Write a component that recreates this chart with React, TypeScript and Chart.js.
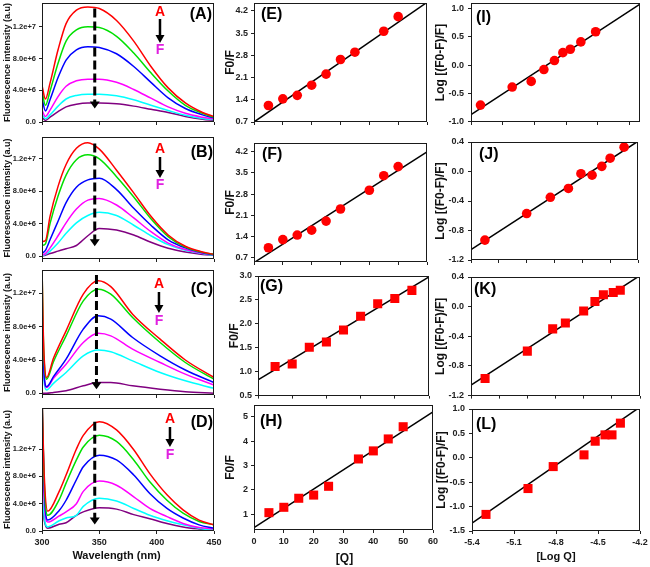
import React, { useEffect, useRef } from 'react';
import { Chart, registerables } from 'chart.js';

Chart.register(...registerables);

const FONT = "'Liberation Sans', Arial, Helvetica, sans-serif";

// ================= Fluorescence spectra (intensity in units of 1e6 a.u.) =================
const wlA = [300, 303, 307, 314, 321, 330, 340, 350, 365, 380, 395, 410, 425, 440, 450];
const aRed = [4.6, 2.9, 4.9, 9.1, 12.4, 14.1, 14.5, 14.3, 12.8, 10.2, 7.0, 4.3, 2.4, 1.2, 0.7];
const aGreen = [3.9, 2.1, 3.9, 7.4, 10.2, 11.6, 12.0, 11.9, 10.8, 8.7, 6.2, 3.9, 2.1, 1.1, 0.6];
const aBlue = [3.0, 1.4, 2.8, 5.6, 7.8, 9.1, 9.5, 9.4, 8.6, 7.0, 5.0, 3.05, 1.7, 0.9, 0.5];
const aMagenta = [1.5, 0.7, 1.5, 3.2, 4.5, 5.2, 5.4, 5.4, 5.0, 4.1, 3.0, 1.9, 1.1, 0.6, 0.35];
const aCyan = [1.0, 0.4, 0.9, 2.0, 2.9, 3.35, 3.5, 3.5, 3.3, 2.8, 2.1, 1.45, 0.85, 0.45, 0.3];
const aPurple = [0.6, 0.2, 0.6, 1.3, 1.9, 2.25, 2.4, 2.4, 2.3, 2.0, 1.6, 1.2, 0.7, 0.35, 0.2];

const wlB = [300, 303, 307, 314, 321, 330, 340, 350, 365, 380, 395, 410, 425, 440, 450];
const bRed = [1.8, 1.9, 4.9, 8.6, 11.3, 13.3, 14.0, 13.2, 10.6, 7.8, 4.9, 2.6, 1.2, 0.5, 0.2];
const bGreen = [1.3, 1.5, 4.0, 7.4, 10.0, 11.9, 12.5, 12.0, 9.8, 7.3, 4.6, 2.4, 1.1, 0.45, 0.2];
const bBlue = [0.3, 0.7, 2.0, 4.3, 6.6, 8.5, 9.4, 9.6, 8.2, 5.9, 3.8, 2.0, 1.0, 0.4, 0.15];
const bMagenta = [0.1, 0.3, 1.0, 2.5, 4.1, 5.8, 6.9, 7.1, 6.3, 4.7, 3.0, 1.6, 0.8, 0.35, 0.15];
const bCyan = [0.0, 0.2, 0.6, 1.6, 2.8, 4.1, 5.0, 5.4, 5.0, 3.8, 2.5, 1.4, 0.7, 0.3, 0.1];
const bPurple = [0.0, 0.1, 0.3, 0.6, 0.9, 1.3, 2.5, 3.4, 3.2, 2.6, 1.7, 0.95, 0.5, 0.2, 0.1];

const wlC = [300, 301, 302, 304, 310, 321, 336, 349, 360, 379, 403, 425, 450];
const cRed = [15.5, 8.0, 4.0, 1.9, 4.2, 7.5, 11.9, 13.5, 12.8, 9.5, 6.5, 4.0, 1.9];
const cGreen = [15.5, 7.5, 3.6, 1.7, 3.8, 6.9, 11.1, 12.5, 11.9, 9.1, 6.1, 3.7, 1.7];
const cBlue = [10.9, 5.0, 2.0, 0.8, 2.0, 4.1, 7.7, 9.3, 8.9, 6.7, 4.5, 2.8, 1.3];
const cMagenta = [9.6, 4.5, 1.8, 0.7, 1.8, 3.5, 6.1, 7.2, 6.9, 5.3, 3.7, 2.3, 1.0];
const cCyan = [6.3, 3.0, 1.2, 0.4, 1.2, 2.5, 4.5, 5.2, 5.0, 3.9, 2.5, 1.5, 0.6];
const cPurple = [0.0, 0.0, 0.0, 0.0, 0.1, 0.3, 0.9, 1.3, 1.3, 0.9, 0.5, 0.2, 0.0];

const wlD = [300, 302, 305, 315, 321, 330, 336, 350, 365, 380, 394, 409, 423, 437, 450];
const dRed = [20, 8, 2.9, 5.8, 8.2, 12.0, 14.0, 16.0, 14.8, 11.9, 8.4, 5.3, 3.1, 1.6, 0.9];
const dGreen = [20, 7, 2.3, 4.6, 7.0, 10.4, 12.3, 14.0, 13.1, 10.4, 7.2, 4.5, 2.6, 1.4, 0.9];
const dBlue = [20, 6, 1.6, 3.0, 4.5, 7.5, 9.4, 11.1, 10.4, 8.2, 5.5, 3.3, 1.9, 0.9, 0.4];
const dMagenta = [15, 4, 1.3, 2.2, 2.8, 4.0, 5.8, 7.3, 6.7, 5.0, 3.3, 2.1, 1.1, 0.5, 0.3];
const dCyan = [6.5, 2, 0.6, 1.5, 1.9, 2.3, 3.6, 4.8, 4.4, 3.3, 2.3, 1.5, 0.9, 0.4, 0.1];
const dPurple = [5.0, 1.5, 0.4, 1.0, 1.2, 2.3, 2.8, 3.4, 3.2, 2.4, 1.8, 1.1, 0.6, 0.3, 0.1];

const spectraTickValues = [0, 4, 8, 12];
const spectraTickLabels = ['0.0', '4.0e+6', '8.0e+6', '1.2e+7'];
const wavelengthTicks = [300, 350, 400, 450];
const wavelengthLabels = ['300', '350', '400', '450'];
const curveColors = ['#ff0000', '#00e000', '#0000ff', '#ff00ff', '#00ffff', '#800080'];

// ================= Stern-Volmer plots F0/F vs [Q] =================
const qE = [5, 10, 15, 20, 25, 30, 35, 45, 50];
const f0fE = [1.22, 1.43, 1.54, 1.86, 2.21, 2.67, 2.9, 3.56, 4.02];
const fitEx = [0, 60];
const fitEy = [0.7, 4.47];

const qF = [5, 10, 15, 20, 25, 30, 40, 45, 50];
const f0fF = [1.03, 1.3, 1.45, 1.61, 1.91, 2.31, 2.93, 3.41, 3.71];
const fitFx = [0, 60];
const fitFy = [0.54, 4.2];

const qG = [5, 10, 15, 20, 25, 30, 35, 40, 45];
const f0fG = [1.11, 1.16, 1.51, 1.62, 1.87, 2.16, 2.42, 2.53, 2.7];
const fitGx = [0, 50];
const fitGy = [0.83, 2.98];

const qH = [5, 10, 15, 20, 25, 35, 40, 45, 50];
const f0fH = [1.07, 1.29, 1.66, 1.79, 2.15, 3.27, 3.6, 4.09, 4.59];
const fitHx = [0, 60];
const fitHy = [0.46, 5.2];

const ticksQ60 = [0, 10, 20, 30, 40, 50, 60];
const ticksQ50 = [0, 10, 20, 30, 40, 50];
const ticksSV1 = [0.7, 1.4, 2.1, 2.8, 3.5, 4.2];
const ticksSVG = [0.5, 1.0, 1.5, 2.0, 2.5, 3.0];
const ticksSVH = [1, 2, 3, 4, 5];

// ================= Double-log plots =================
const logQI = [-5.31, -5.01, -4.83, -4.71, -4.61, -4.53, -4.46, -4.36, -4.22];
const logFI = [-0.71, -0.39, -0.29, -0.08, 0.08, 0.22, 0.28, 0.41, 0.59];
const fitIx = [-5.4, -3.8];
const fitIy = [-0.88, 1.08];

const logQJ = [-5.3, -5.0, -4.83, -4.7, -4.61, -4.53, -4.46, -4.4, -4.3];
const logFJ = [-0.93, -0.57, -0.35, -0.23, -0.03, -0.05, 0.07, 0.18, 0.33];
const fitJx = [-5.4, -4.2];
const fitJy = [-1.06, 0.41];

const logQK = [-5.3, -5.0, -4.82, -4.73, -4.6, -4.52, -4.46, -4.39, -4.34];
const logFK = [-0.97, -0.6, -0.3, -0.22, -0.06, 0.07, 0.16, 0.19, 0.22];
const fitKx = [-5.4, -4.2];
const fitKy = [-1.06, 0.42];

const logQL = [-5.3, -5.0, -4.82, -4.6, -4.52, -4.45, -4.4, -4.34];
const logFL = [-1.16, -0.63, -0.18, 0.06, 0.34, 0.47, 0.47, 0.71];
const fitLx = [-5.4, -4.2];
const fitLy = [-1.34, 1.04];

const ticksLogI = [-5.4, -5.1, -4.8, -4.5, -4.2, -3.9];
const ticksLog02 = [-5.4, -5.2, -5.0, -4.8, -4.6, -4.4, -4.2];
const ticksLog03 = [-5.4, -5.1, -4.8, -4.5, -4.2];
const ticksYI = [-1.0, -0.5, 0.0, 0.5, 1.0];
const ticksYJK = [-1.2, -0.8, -0.4, 0.0, 0.4];
const ticksYL = [-1.5, -1.0, -0.5, 0.0, 0.5, 1.0];

// ================= layout helpers =================
const MT = 8;
const MR = 12;

const fmt1 = (v: number) => v.toFixed(1);
const fmt0 = (v: number) => v.toFixed(0);

function curveSets(wl: number[], curves: number[][]) {
  return curves.map((c, i) => ({
    data: wl.map((w, k) => ({ x: w, y: c[k] })),
    showLine: true,
    borderColor: curveColors[i],
    backgroundColor: curveColors[i],
    borderWidth: 1.5,
    pointRadius: 0,
    cubicInterpolationMode: 'monotone',
    fill: false,
    order: i,
  }));
}

function quenchSets(xs: number[], ys: number[], fx: number[], fy: number[], style: string) {
  return [
    {
      data: xs.map((x, i) => ({ x, y: ys[i] })),
      pointStyle: style,
      pointRadius: style === 'rect' ? 6.4 : 4.8,
      backgroundColor: '#ff0000',
      borderColor: '#ff0000',
      borderWidth: 0,
      showLine: false,
      order: 0,
    },
    {
      data: fx.map((x, i) => ({ x, y: fy[i] })),
      showLine: true,
      borderColor: '#000000',
      borderWidth: 1.5,
      pointRadius: 0,
      order: 1,
    },
  ];
}

const col1 = { l: 42, r: 214, mL: 42, yTitle: 'Fluorescence intensity (a.u)', yTitleSize: 9, yTitlePad: 2, yTickSize: 7.5, yTickPad: 3 };
const col2 = { mL: 36, yTitle: 'F0/F', yTitleSize: 12, yTitlePad: 5, yTickSize: 9, yTickPad: 3 };
const col3 = { mL: 38, yTitle: 'Log [(F0-F)/F]', yTitleSize: 12, yTitlePad: 0, yTickSize: 9, yTickPad: 4 };

const panels: any[] = [
  // ---- column 1 ----
  {
    id: 'A', ...col1, t: 3, b: 122, mB: 6,
    xMin: 300, xMax: 450, xTicks: wavelengthTicks, xLabels: null,
    yMin: 0, yMax: 15, yTicks: spectraTickValues, yLabels: spectraTickLabels,
    datasets: curveSets(wlA, [aRed, aGreen, aBlue, aMagenta, aCyan, aPurple]),
    label: '(A)', labelAlign: 'right', labelDx: 2, labelDy: 12,
    arrow: { x: 346, top: 14.3, bottom: 1.7 },
    af: { fx: 0.686, aY: 9, s1: 16, s2: 40, fY: 47 },
  },
  {
    id: 'B', ...col1, t: 137, b: 259, mB: 6,
    xMin: 300, xMax: 450, xTicks: wavelengthTicks, xLabels: null,
    yMin: -0.37, yMax: 14.7, yTicks: spectraTickValues, yLabels: spectraTickLabels,
    datasets: curveSets(wlB, [bRed, bGreen, bBlue, bMagenta, bCyan, bPurple]),
    label: '(B)', labelAlign: 'right', labelDx: 1, labelDy: 16,
    arrow: { x: 346, top: 13.9, bottom: 1.2 },
    af: { fx: 0.686, aY: 12, s1: 20, s2: 41, fY: 48 },
  },
  {
    id: 'C', ...col1, t: 270, b: 395, mB: 6,
    xMin: 300, xMax: 450, xTicks: wavelengthTicks, xLabels: null,
    yMin: -0.2, yMax: 14.8, yTicks: spectraTickValues, yLabels: spectraTickLabels,
    datasets: curveSets(wlC, [cRed, cGreen, cBlue, cMagenta, cCyan, cPurple]),
    label: '(C)', labelAlign: 'right', labelDx: 1, labelDy: 20,
    arrow: { x: 347.5, top: 14.2, bottom: 0.5 },
    af: { fx: 0.68, aY: 14, s1: 22, s2: 43, fY: 51 },
  },
  {
    id: 'D', ...col1, t: 408, b: 531, mB: 36,
    xMin: 300, xMax: 450, xTicks: wavelengthTicks, xLabels: wavelengthLabels,
    xTitle: 'Wavelength (nm)', xTitleSize: 11, xTitleDx: -11.5, xTitleDy: 25,
    yMin: 0, yMax: 18, yTicks: spectraTickValues, yLabels: spectraTickLabels,
    datasets: curveSets(wlD, [dRed, dGreen, dBlue, dMagenta, dCyan, dPurple]),
    label: '(D)', labelAlign: 'right', labelDx: 1, labelDy: 15,
    arrow: { x: 346, top: 16.0, bottom: 0.95 },
    af: { fx: 0.744, aY: 11, s1: 19, s2: 39, fY: 47 },
  },
  // ---- column 2 ----
  {
    id: 'E', ...col2, l: 254, r: 427, t: 3, b: 122, mB: 6,
    xMin: 0, xMax: 60, xTicks: ticksQ60, xLabels: null,
    yMin: 0.7, yMax: 4.45, yTicks: ticksSV1, yLabels: ticksSV1.map(fmt1),
    datasets: quenchSets(qE, f0fE, fitEx, fitEy, 'circle'),
    label: '(E)', labelAlign: 'left', labelDx: 7, labelDy: 12,
  },
  {
    id: 'F', ...col2, l: 254, r: 427, t: 143, b: 262, mB: 6,
    xMin: 0, xMax: 60, xTicks: ticksQ60, xLabels: null,
    yMin: 0.56, yMax: 4.49, yTicks: ticksSV1, yLabels: ticksSV1.map(fmt1),
    datasets: quenchSets(qF, f0fF, fitFx, fitFy, 'circle'),
    label: '(F)', labelAlign: 'left', labelDx: 8, labelDy: 12,
  },
  {
    id: 'G', ...col2, l: 258, r: 429, t: 276, b: 396, mB: 6,
    xMin: 0, xMax: 50, xTicks: ticksQ50, xLabels: null,
    yMin: 0.5, yMax: 3.0, yTicks: ticksSVG, yLabels: ticksSVG.map(fmt1),
    datasets: quenchSets(qG, f0fG, fitGx, fitGy, 'rect'),
    label: '(G)', labelAlign: 'left', labelDx: 2, labelDy: 11,
  },
  {
    id: 'H', ...col2, l: 254, r: 433, t: 405, b: 530, mB: 36,
    xMin: 0, xMax: 60, xTicks: ticksQ60, xLabels: ticksQ60.map(fmt0),
    xTitle: '[Q]', xTitleSize: 12, xTitleDx: 1, xTitleDy: 29,
    yMin: 0.36, yMax: 5.48, yTicks: ticksSVH, yLabels: ticksSVH.map(fmt0),
    datasets: quenchSets(qH, f0fH, fitHx, fitHy, 'rect'),
    label: '(H)', labelAlign: 'left', labelDx: 6, labelDy: 17,
  },
  // ---- column 3 ----
  {
    id: 'I', ...col3, l: 471, r: 640, t: 3, b: 122, mB: 6,
    xMin: -5.4, xMax: -3.8, xTicks: ticksLogI, xLabels: null,
    yMin: -1.01, yMax: 1.1, yTicks: ticksYI, yLabels: ticksYI.map(fmt1),
    datasets: quenchSets(logQI, logFI, fitIx, fitIy, 'circle'),
    label: '(I)', labelAlign: 'left', labelDx: 5, labelDy: 15,
  },
  {
    id: 'J', ...col3, l: 471, r: 638, t: 142, b: 260, mB: 6,
    xMin: -5.4, xMax: -4.2, xTicks: ticksLog02, xLabels: null,
    yMin: -1.2, yMax: 0.4, yTicks: ticksYJK, yLabels: ticksYJK.map(fmt1),
    datasets: quenchSets(logQJ, logFJ, fitJx, fitJy, 'circle'),
    label: '(J)', labelAlign: 'left', labelDx: 8, labelDy: 13,
  },
  {
    id: 'K', ...col3, l: 471, r: 640, t: 277, b: 396, mB: 6,
    xMin: -5.4, xMax: -4.2, xTicks: ticksLog02, xLabels: null,
    yMin: -1.2, yMax: 0.4, yTicks: ticksYJK, yLabels: ticksYJK.map(fmt1),
    datasets: quenchSets(logQK, logFK, fitKx, fitKy, 'rect'),
    label: '(K)', labelAlign: 'left', labelDx: 3, labelDy: 13,
  },
  {
    id: 'L', ...col3, l: 472, r: 640, t: 409, b: 531, mB: 36,
    xMin: -5.4, xMax: -4.2, xTicks: ticksLog03, xLabels: ticksLog03.map(fmt1),
    xTitle: '[Log Q]', xTitleSize: 11, xTitleDx: 0, xTitleDy: 26,
    yMin: -1.5, yMax: 1.0, yTicks: ticksYL, yLabels: ticksYL.map(fmt1),
    datasets: quenchSets(logQL, logFL, fitLx, fitLy, 'rect'),
    label: '(L)', labelAlign: 'left', labelDx: 4, labelDy: 16,
  },
];

function overlayPlugin(p: any) {
  return {
    id: 'overlay' + p.id,
    afterDatasetsDraw(chart: any) {
      const { ctx, chartArea: a } = chart;
      ctx.save();
      // frame
      const x0 = Math.round(a.left) + 0.5;
      const y0 = Math.round(a.top) + 0.5;
      const w = Math.round(a.right - a.left) - 1;
      const h = Math.round(a.bottom - a.top) - 1;
      ctx.strokeStyle = '#1a1a1a';
      ctx.lineWidth = 1;
      ctx.strokeRect(x0, y0, w, h);

      // panel label
      ctx.fillStyle = '#000';
      ctx.font = `bold 16px ${FONT}`;
      ctx.textBaseline = 'middle';
      if (p.labelAlign === 'right') {
        ctx.textAlign = 'right';
        ctx.fillText(p.label, a.right - p.labelDx, a.top + p.labelDy);
      } else {
        ctx.textAlign = 'left';
        ctx.fillText(p.label, a.left + p.labelDx, a.top + p.labelDy);
      }

      // dashed arrow through the peaks
      if (p.arrow) {
        const xs = chart.scales.x;
        const ys = chart.scales.y;
        const ax = xs.getPixelForValue(p.arrow.x);
        const y1 = ys.getPixelForValue(p.arrow.top);
        const y2 = ys.getPixelForValue(p.arrow.bottom);
        ctx.strokeStyle = '#000';
        ctx.lineWidth = 3;
        ctx.setLineDash([9, 4]);
        ctx.beginPath();
        ctx.moveTo(ax, y1);
        ctx.lineTo(ax, y2 - 6);
        ctx.stroke();
        ctx.setLineDash([]);
        ctx.beginPath();
        ctx.moveTo(ax - 5, y2 - 7);
        ctx.lineTo(ax + 5, y2 - 7);
        ctx.lineTo(ax, y2);
        ctx.closePath();
        ctx.fill();
      }

      // A -> F legend
      if (p.af) {
        const fx = a.left + p.af.fx * (a.right - a.left);
        ctx.textAlign = 'center';
        ctx.font = `bold 14px ${FONT}`;
        ctx.fillStyle = '#ff0000';
        ctx.fillText('A', fx, a.top + p.af.aY);
        ctx.fillStyle = '#e020e0';
        ctx.fillText('F', fx, a.top + p.af.fY);
        ctx.strokeStyle = '#000';
        ctx.fillStyle = '#000';
        ctx.lineWidth = 2.5;
        ctx.beginPath();
        ctx.moveTo(fx, a.top + p.af.s1);
        ctx.lineTo(fx, a.top + p.af.s2 - 6);
        ctx.stroke();
        ctx.beginPath();
        ctx.moveTo(fx - 4.5, a.top + p.af.s2 - 8);
        ctx.lineTo(fx + 4.5, a.top + p.af.s2 - 8);
        ctx.lineTo(fx, a.top + p.af.s2);
        ctx.closePath();
        ctx.fill();
      }

      // x-axis title
      if (p.xTitle) {
        ctx.fillStyle = '#111';
        ctx.textAlign = 'center';
        ctx.font = `bold ${p.xTitleSize}px ${FONT}`;
        ctx.fillText(p.xTitle, (a.left + a.right) / 2 + p.xTitleDx, a.bottom + p.xTitleDy);
      }
      ctx.restore();
    },
  };
}

function zeroPad(s: any) {
  s.paddingLeft = 0;
  s.paddingRight = 0;
  s.paddingTop = 0;
  s.paddingBottom = 0;
}

function Panel({ p }: { p: any }) {
  const ref = useRef<HTMLCanvasElement | null>(null);
  const W = p.r - p.l + p.mL + MR;
  const H = p.b - p.t + MT + p.mB;

  useEffect(() => {
    if (!ref.current) return;
    const chart = new Chart(ref.current, {
      type: 'scatter',
      data: { datasets: p.datasets },
      options: {
        animation: false,
        responsive: false,
        maintainAspectRatio: false,
        events: [],
        layout: { padding: { top: MT, right: MR, left: 0, bottom: 0 } },
        plugins: { legend: { display: false }, tooltip: { enabled: false }, title: { display: false } },
        scales: {
          x: {
            type: 'linear',
            min: p.xMin,
            max: p.xMax,
            afterBuildTicks: (s: any) => {
              s.ticks = p.xTicks.map((v: number) => ({ value: v }));
            },
            afterFit: (s: any) => {
              s.height = p.mB;
              zeroPad(s);
            },
            ticks: {
              display: !!p.xLabels,
              autoSkip: false,
              maxRotation: 0,
              padding: 3,
              color: '#222',
              font: { family: FONT, size: 9, weight: 'bold' },
              callback: (_v: any, i: number) => (p.xLabels ? p.xLabels[i] : ''),
            },
            grid: { display: true, drawOnChartArea: false, drawTicks: true, tickLength: 3, color: '#222', lineWidth: 1 },
            border: { display: false },
            title: { display: false },
          },
          y: {
            type: 'linear',
            min: p.yMin,
            max: p.yMax,
            afterBuildTicks: (s: any) => {
              s.ticks = p.yTicks.map((v: number) => ({ value: v }));
            },
            afterFit: (s: any) => {
              s.width = p.mL;
              zeroPad(s);
            },
            ticks: {
              autoSkip: false,
              padding: p.yTickPad,
              color: '#222',
              font: { family: FONT, size: p.yTickSize, weight: 'bold' },
              callback: (_v: any, i: number) => p.yLabels[i],
            },
            grid: { display: true, drawOnChartArea: false, drawTicks: true, tickLength: 3, color: '#222', lineWidth: 1 },
            border: { display: false },
            title: {
              display: true,
              text: p.yTitle,
              color: '#111',
              font: { family: FONT, size: p.yTitleSize, weight: 'bold' },
              padding: { top: p.yTitlePad, bottom: 0 },
            },
          },
        },
      } as any,
      plugins: [overlayPlugin(p)],
    } as any);
    return () => chart.destroy();
  }, []);

  return (
    <canvas
      ref={ref}
      width={W}
      height={H}
      style={{ position: 'absolute', left: p.l - p.mL, top: p.t - MT, width: W, height: H }}
    />
  );
}

export default function App() {
  return (
    <div
      style={{
        position: 'absolute',
        left: 0,
        top: 0,
        width: 650,
        height: 567,
        background: '#ffffff',
        overflow: 'hidden',
      }}
    >
      {panels.map((p) => (
        <Panel key={p.id} p={p} />
      ))}
    </div>
  );
}
